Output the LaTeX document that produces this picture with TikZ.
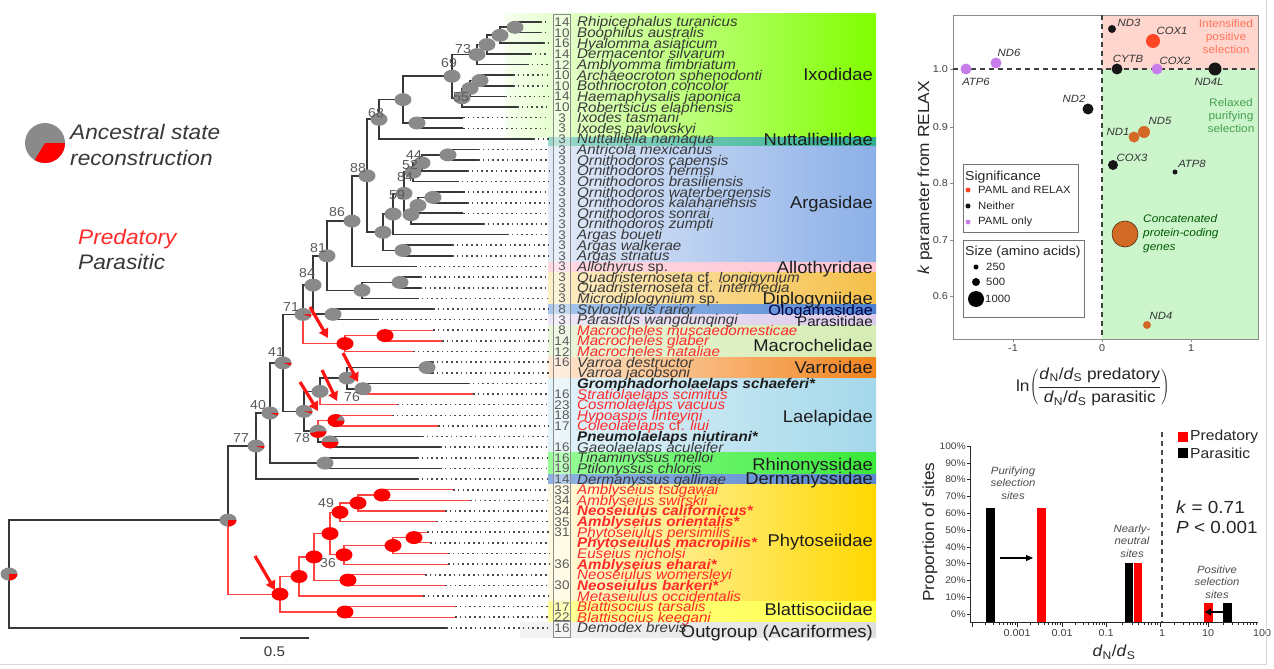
\documentclass[tikz,border=0pt]{standalone}
\usepackage{fontspec}
\setmainfont[FakeStretch=1.08]{Liberation Sans}
\usetikzlibrary{calc,arrows.meta,positioning}

\definecolor{TreeBlack}{HTML}{383838}
\definecolor{TreeRed}{HTML}{FF4444}
\definecolor{LeadGray}{HTML}{4A4A4A}
\definecolor{PieGray}{HTML}{8A8A8A}
\definecolor{PieRed}{HTML}{FF0000}
\definecolor{ArrowRed}{HTML}{FF1414}
\definecolor{tk}{HTML}{383838}
\definecolor{tb}{HTML}{1E1E1E}
\definecolor{tr}{HTML}{FF2A2A}
\definecolor{NumGray}{HTML}{5A5A5A}
\definecolor{FamText}{HTML}{1E1E1E}
% family bands
\definecolor{IxoA}{HTML}{F6FFEE}\definecolor{IxoB}{HTML}{80FF00}
\definecolor{NutA}{HTML}{9AD8C8}\definecolor{NutB}{HTML}{30B090}
\definecolor{ArgA}{HTML}{E2EAF7}\definecolor{ArgB}{HTML}{8CB0E8}
\definecolor{AllA}{HTML}{FFD8E2}\definecolor{AllB}{HTML}{FFC4D4}
\definecolor{DipA}{HTML}{FDEEC8}\definecolor{DipB}{HTML}{F5C04A}
\definecolor{OloA}{HTML}{A8C8EC}\definecolor{OloB}{HTML}{4A7FD0}
\definecolor{ParA}{HTML}{EEE6F6}\definecolor{ParB}{HTML}{DCCBEB}
\definecolor{MacA}{HTML}{EAF5D8}\definecolor{MacB}{HTML}{D6ECB4}
\definecolor{VarA}{HTML}{FFE6D0}\definecolor{VarB}{HTML}{F2841E}
\definecolor{LaeA}{HTML}{E4F3F9}\definecolor{LaeB}{HTML}{A4D8EA}
\definecolor{RhiA}{HTML}{98FF98}\definecolor{RhiB}{HTML}{38E838}
\definecolor{DerA}{HTML}{90B2E2}\definecolor{DerB}{HTML}{5A86D0}
\definecolor{PhyA}{HTML}{FFFBE2}\definecolor{PhyB}{HTML}{FFD800}
\definecolor{BlaA}{HTML}{FFFF98}\definecolor{BlaB}{HTML}{FFFF40}
\definecolor{OutA}{HTML}{F4F4F4}\definecolor{OutB}{HTML}{DEDEDE}
% right panels
\definecolor{PinkZone}{HTML}{FFD6CE}
\definecolor{GreenZone}{HTML}{CCF5CC}
\definecolor{RelaxText}{HTML}{46A050}
\definecolor{Purp}{HTML}{C77DEA}
\definecolor{Hot}{HTML}{FF4726}
\definecolor{Rust}{HTML}{D26A25}
\definecolor{Dot}{HTML}{161616}
\definecolor{BarRed}{HTML}{FF0000}

\tikzset{
  Branch/.style={line width=1.7pt, draw=TreeBlack},
  RedBranch/.style={line width=1.2pt, draw=TreeRed},
  Leader/.style={line width=1.6pt, draw=LeadGray, dash pattern=on 1.6pt off 3.2pt},
  Leaf/.style={font=\fontsize{14}{16}\selectfont\itshape, inner sep=0pt, anchor=base west},
  Num/.style={font=\fontsize{12.5}{14}\selectfont, text=NumGray, inner sep=0pt, anchor=base},
  NumBox/.style={draw=black!45, line width=0.8pt, fill=white, fill opacity=0.35},
  Family/.style={font=\fontsize{17}{19}\selectfont, text=FamText, inner sep=0pt, anchor=base east},
  Support/.style={font=\fontsize{13}{15}\selectfont, text=NumGray, inner sep=0pt},
  PredArrow/.style={line width=3.2pt, draw=ArrowRed, -{Triangle[length=9pt,width=10pt]}},
  Legend/.style={font=\fontsize{21}{23}\selectfont\itshape, inner sep=0pt, anchor=base west},
  Tick/.style={font=\fontsize{10}{12}\selectfont, text=black!75, inner sep=1pt},
  Gene/.style={font=\fontsize{10.5}{12}\selectfont\itshape, text=black!80, inner sep=0pt},
  Zone/.style={font=\fontsize{11}{13}\selectfont, inner sep=0pt, align=center},
  Frame/.style={draw=black!45, line width=0.8pt},
  ZeroLine/.style={draw=black!75, line width=1.4pt, dash pattern=on 5pt off 4pt},
  BoxTitle/.style={font=\fontsize{13}{15}\selectfont, text=black!85, inner sep=0pt, anchor=base west},
  BoxItem/.style={font=\fontsize{10.5}{12}\selectfont, text=black!85, inner sep=0pt, anchor=west},
  AxisLab/.style={font=\fontsize{16}{18}\selectfont, text=black!85, inner sep=0pt},
  Note/.style={font=\fontsize{10.5}{12.5}\selectfont\itshape, text=black!70, inner sep=0pt, align=center},
}

\newcommand{\PieG}[1]{\fill[PieGray] (#1) ellipse [x radius=8.5, y radius=6.5];}
\newcommand{\PieR}[1]{\fill[PieRed] (#1) ellipse [x radius=8.5, y radius=6.5];}
\newcommand{\PieM}[2]{\PieG{#1}
  \fill[PieRed] (#1) -- ++(0:8.5 and 6.5)
    arc [start angle=0, end angle={360*#2}, x radius=8.5, y radius=6.5] -- cycle;}
\newcommand{\Dn}{\textit{d}\textsubscript{N}}
\newcommand{\Ds}{\textit{d}\textsubscript{S}}

\begin{document}
\begin{tikzpicture}[x=1pt, y=-1pt]
  \fill[white] (0,0) rectangle (1274,669);
  \useasboundingbox (0,0) rectangle (1274,669);

  % family bands
  \foreach \ya/\yb/\ca/\cb/\xa in {14/137/IxoA/IxoB/505, 137/146/NutA/NutB/548,
      146/262/ArgA/ArgB/548, 262/272/AllA/AllB/548, 272/304.5/DipA/DipB/548,
      304.5/314.5/OloA/OloB/548, 314.5/325/ParA/ParB/548, 325/357/MacA/MacB/548,
      357/378/VarA/VarB/548, 378/452.5/LaeA/LaeB/548, 452.5/474/RhiA/RhiB/548,
      474/484.5/DerA/DerB/548, 484.5/601/PhyA/PhyB/548, 601/622/BlaA/BlaB/548,
      622/637/OutA/OutB/520}
    {\shade[left color=\ca, right color=\cb] (\xa,\ya) rectangle (876,\yb);}

  \node[NumBox, minimum width=17pt, minimum height=606pt, anchor=north west] (numbox) at (553,14) {};
  \node[NumBox, minimum width=17pt, minimum height=16pt, anchor=north west] (outbox) at (553,621) {};
  \coordinate (lead) at (549,0);

  % leaf tips
  \foreach \i/\tx in {1/540,2/540,3/543,4/530,5/527,6/513,7/513,8/505,9/517,10/463,
      11/463,12/533,13/478,14/478,15/467,16/457,17/463,18/467,19/463,20/483,
      21/507,22/452,23/452,24/415,25/420,26/420,27/417,28/433,29/377,30/433,
      31/442,32/413,33/432,34/432,35/468,36/473,37/397,38/392,39/438,40/422,
      41/440,42/417,43/440,44/417,45/453,46/470,47/445,48/436,49/427,50/430,
      51/448,52/448,53/425,54/445,55/423,56/455,57/455,58/446}{
    \coordinate (l\i) at (\tx,{22+(\i-1)*10.63});
    \draw[Leader] (l\i) -- (l\i -| lead);
  }

  % internal nodes
  \coordinate (i12) at (515,27.3);   \coordinate (i123) at (500,35.3);
  \coordinate (i73) at (487,44.6);   \coordinate (i5) at (477,54.6);
  \coordinate (i67) at (480,80.5);   \coordinate (i55) at (470,88.5);
  \coordinate (i9) at (462,97.8);    \coordinate (i69) at (452,76.2);
  \coordinate (i1011) at (417,123.0); \coordinate (iIx) at (403,99.6);
  \coordinate (i68) at (379,119.3);
  \coordinate (a44) at (448,154.9);  \coordinate (a52) at (422,162.9);
  \coordinate (a84) at (413,172.2);  \coordinate (a1718) at (433,197.4);
  \coordinate (a19) at (418,205.4);  \coordinate (a20) at (411,214.7);
  \coordinate (a59) at (404,193.4);  \coordinate (a21) at (393,214.0);
  \coordinate (a2223) at (403,250.5); \coordinate (aRoot) at (383,232.3);
  \coordinate (n88) at (367,175.8);  \coordinate (n86) at (352,221.1);
  \coordinate (d2526) at (400,282.4); \coordinate (dRoot) at (362,290.4);
  \coordinate (n81) at (327,255.8);  \coordinate (s2829) at (333,314.3);
  \coordinate (n84) at (313,285.1);  \coordinate (m3031) at (385,335.6);
  \coordinate (mRoot) at (345,343.6); \coordinate (n71) at (303,314.4);
  \coordinate (v3334) at (427,367.5); \coordinate (n76) at (363,388.7);
  \coordinate (nVG) at (347,378.1);  \coordinate (nVGC) at (320,391.4);
  \coordinate (l3839) at (336,420.6); \coordinate (l4041) at (330,441.9);
  \coordinate (laeB) at (318,431.3); \coordinate (laeRoot) at (304,411.4);
  \coordinate (n41) at (283,362.9);  \coordinate (r4243) at (325,463.1);
  \coordinate (n40) at (270,413.0);  \coordinate (n77) at (256,446.0);
  \coordinate (p4546) at (382,495.0); \coordinate (p47) at (358,503.0);
  \coordinate (p49) at (340,512.3);  \coordinate (p4950) at (414,537.6);
  \coordinate (p51) at (393,545.5);  \coordinate (p36) at (344,554.8);
  \coordinate (pA) at (330,533.6);   \coordinate (p5354) at (348,580.1);
  \coordinate (pB) at (314,556.9);   \coordinate (pC) at (299,576.5);
  \coordinate (pBl) at (345,612.0);  \coordinate (pRoot) at (280,594.2);
  \coordinate (R1) at (228,520.1);   \coordinate (R0) at (9,574.0);

  % parasitic branches
  \foreach \p/\c in {i12/l1, i12/l2, i123/i12, i123/l3, i73/i123, i73/l4, i5/i73, i5/l5,
      i67/l6, i67/l7, i55/i67, i55/l8, i9/i55, i9/l9, i69/i5, i69/i9, i1011/l10,
      i1011/l11, iIx/i69, iIx/i1011, i68/iIx, i68/l12, a44/l13, a44/l14, a52/a44,
      a52/l15, a84/a52, a84/l16, a1718/l17, a1718/l18, a19/a1718, a19/l19, a20/a19,
      a20/l20, a59/a84, a59/a20, a21/a59, a21/l21, a2223/l22, a2223/l23, aRoot/a21,
      aRoot/a2223, n88/i68, n88/aRoot, n86/n88, n86/l24, d2526/l25, d2526/l26,
      dRoot/d2526, dRoot/l27, n81/n86, n81/dRoot, s2829/l28, s2829/l29, n84/n81,
      n84/s2829, n71/n84, v3334/l33, v3334/l34, n76/l35, nVG/v3334, nVG/n76,
      nVGC/nVG, l4041/l40, l4041/l41, laeB/l4041, laeRoot/nVGC, laeRoot/laeB,
      n41/n71, n41/laeRoot, r4243/l42, r4243/l43, n40/n41, n40/r4243, n77/n40,
      n77/l44, R1/n77, R0/R1, R0/l58}
    {\draw[Branch] (\p) |- (\c);}

  % predatory branches
  \foreach \p/\c in {n71/mRoot, mRoot/m3031, mRoot/l32, m3031/l30, m3031/l31,
      n76/l36, nVGC/l37, laeB/l3839, l3839/l38, l3839/l39, R1/pRoot, pRoot/pC,
      pRoot/pBl, pBl/l56, pBl/l57, pC/pB, pC/l55, pB/pA, pB/p5354, p5354/l53,
      p5354/l54, pA/p49, pA/p36, p49/p47, p49/l48, p47/p4546, p47/l47, p4546/l45,
      p4546/l46, p36/p51, p36/l52, p51/p4950, p51/l51, p4950/l49, p4950/l50}
    {\draw[RedBranch] (\p) |- (\c);}

  % ancestral states
  \foreach \n in {i12, i123, i73, i5, i67, i55, i9, i69, i1011, iIx, i68, a44, a52,
      a84, a1718, a19, a20, a59, a21, a2223, aRoot, n88, n86, d2526, dRoot, n81,
      s2829, n84, v3334, n76, nVG, nVGC, r4243}
    {\PieG{\n}}
  \foreach \n/\f in {R0/0.25, R1/0.25, n77/0.06, n40/0.06, n41/0.06, n71/0.06,
      laeRoot/0.05, laeB/0.45, l3839/0.85, l4041/0.5}
    {\PieM{\n}{\f}}
  \foreach \n in {mRoot, m3031, pRoot, pC, pB, pA, p49, p47, p4546, p36, p51,
      p4950, p5354, pBl}
    {\PieR{\n}}

  % bootstrap values
  \foreach \v/\x/\y [count=\k] in {73/463/49, 69/449/63, 55/461/97, 68/376/113,
      88/358/168, 44/414/155, 52/410/165, 84/405/177, 59/397/195, 86/337/212,
      81/318/248, 84/307/273, 71/291/307, 41/276/352, 40/258/405, 77/241/438,
      76/352/397, 78/302/438, 49/326/503, 36/328/563}
    {\node[Support] (bs\k) at (\x,\y) {\v};}

  % shifts to predation
  \coordinate (a1s) at (310,307); \coordinate (a1e) at (328,338);
  \coordinate (a2s) at (343,353); \coordinate (a2e) at (358,382);
  \coordinate (a3s) at (322,370); \coordinate (a3e) at (337,401);
  \coordinate (a4s) at (300,382); \coordinate (a4e) at (318,411);
  \coordinate (a5s) at (255,556); \coordinate (a5e) at (275,590);
  \foreach \a in {1,...,5}
    {\draw[PredArrow] (a\a s) -- (a\a e);}

  % taxa
  \foreach \i/\nm/\nr/\cl in {
      1/{Rhipicephalus turanicus}/14/tk, 2/{Boophilus australis}/10/tk,
      3/{Hyalomma asiaticum}/16/tk, 4/{Dermacentor silvarum}/14/tk,
      5/{Amblyomma fimbriatum}/12/tk, 6/{Archaeocroton sphenodonti}/10/tk,
      7/{Bothriocroton concolor}/10/tk, 8/{Haemaphysalis japonica}/14/tk,
      9/{Robertsicus elaphensis}/10/tk, 10/{Ixodes tasmani}/3/tk,
      11/{Ixodes pavlovskyi}/3/tk, 12/{Nuttalliella namaqua}/3/tk,
      13/{Antricola mexicanus}/3/tk, 14/{Ornithodoros capensis}/3/tk,
      15/{Ornithodoros hermsi}/3/tk, 16/{Ornithodoros brasiliensis}/3/tk,
      17/{Ornithodoros waterbergensis}/3/tk, 18/{Ornithodoros kalahariensis}/3/tk,
      19/{Ornithodoros sonrai}/3/tk, 20/{Ornithodoros zumpti}/3/tk,
      21/{Argas boueti}/3/tk, 22/{Argas walkerae}/3/tk, 23/{Argas striatus}/3/tk,
      24/{Allothyrus \textup{sp.}}/3/tk,
      25/{Quadristernoseta \textup{cf.} longigynium}/3/tk,
      26/{Quadristernoseta \textup{cf.} intermedia}/3/tk,
      27/{Microdiplogynium \textup{sp.}}/3/tk, 28/{Stylochyrus rarior}/8/tk,
      29/{Parasitus wangdunqingi}/3/tk, 30/{Macrocheles muscaedomesticae}/8/tr,
      31/{Macrocheles glaber}/14/tr, 32/{Macrocheles nataliae}/12/tr,
      33/{Varroa destructor}/16/tk, 34/{Varroa jacobsoni}//tk,
      35/{\textbf{Gromphadorholaelaps schaeferi*}}//tb,
      36/{Stratiolaelaps scimitus}/16/tr, 37/{Cosmolaelaps vacuus}/23/tr,
      38/{Hypoaspis linteyini}/18/tr, 39/{Coleolaelaps \textup{cf.} liui}/17/tr,
      40/{\textbf{Pneumolaelaps niutirani*}}//tb, 41/{Gaeolaelaps aculeifer}/16/tk,
      42/{Tinaminyssus melloi}/16/tk, 43/{Ptilonyssus chloris}/19/tk,
      44/{Dermanyssus gallinae}/14/tk, 45/{Amblyseius tsugawai}/33/tr,
      46/{Amblyseius swirskii}/34/tr, 47/{\textbf{Neoseiulus californicus*}}/34/tr,
      48/{\textbf{Amblyseius orientalis*}}/35/tr, 49/{Phytoseiulus persimilis}/31/tr,
      50/{\textbf{Phytoseiulus macropilis*}}//tr, 51/{Euseius nicholsi}//tr,
      52/{\textbf{Amblyseius eharai*}}/36/tr, 53/{Neoseiulus womersleyi}//tr,
      54/{\textbf{Neoseiulus barkeri*}}/30/tr, 55/{Metaseiulus occidentalis}//tr,
      56/{Blattisocius tarsalis}/17/tr, 57/{Blattisocius keegani}/22/tr,
      58/{Demodex brevis}/16/tk}{
    \node[Leaf, text=\cl] (t\i) at (577,{27+(\i-1)*10.63}) {\nm};
    \node[Num] (c\i) at (562,{26.5+(\i-1)*10.63}) {\nr};
  }

  % families
  \foreach \fam/\y [count=\k] in {Ixodidae/81, Nuttalliellidae/145, Argasidae/208,
      Allothyridae/273, Diplogyniidae/304, Macrochelidae/351, Varroidae/373,
      Laelapidae/422, Rhinonyssidae/470, Dermanyssidae/484, Phytoseiidae/546,
      Blattisociidae/615, {Outgroup (Acariformes)}/637}
    {\node[Family] (fam\k) at (873,\y) {\fam};}
  \node[Family, font=\fontsize{15}{17}\selectfont, text=black!75!blue] (famOlo) at (873,315) {Ologamasidae};
  \node[Family, font=\fontsize{14}{16}\selectfont] (famPar) at (873,326) {Parasitidae};

  % scale bar
  \coordinate (sb1) at (240,638); \coordinate (sb2) at (309,638);
  \draw[line width=1.5pt, TreeBlack] (sb1) -- (sb2);
  \node[font=\fontsize{14}{16}\selectfont, text=black!80, below=5pt of $(sb1)!0.5!(sb2)$] (sblab) {0.5};

  % legend
  \coordinate (lgpie) at (45,143);
  \fill[PieGray] (lgpie) circle [radius=20];
  \fill[PieRed] (lgpie) -- ++(0:20) arc [start angle=0, end angle=121, radius=20] -- cycle;
  \node[Legend, text=tk] (lg1) at (70,139) {Ancestral state};
  \node[Legend, text=tk] (lg2) at (70,165) {reconstruction};
  \node[Legend, text=tr] (lgpred) at (78,244) {Predatory};
  \node[Legend, text=tk] (lgpara) at (78,269) {Parasitic};

  % RELAX panel
  \fill[PinkZone] (1102,15) rectangle (1258,69);
  \fill[GreenZone] (1102,69) rectangle (1258,339);
  \draw[Frame] (953,15) rectangle (1258,339);
  \draw[ZeroLine] (953,69) -- (1258,69);
  \draw[ZeroLine] (1102,15) -- (1102,339);
  \foreach \v/\y in {1.0/69, 0.9/127, 0.8/183, 0.7/240, 0.6/296}{
    \draw[Frame] (950,\y) -- (953,\y);
    \node[Tick, anchor=east] (yt\y) at (949,\y) {\v};
  }
  \foreach \v/\x in {-1/1013, 0/1102, 1/1191}{
    \draw[Frame] (\x,339) -- (\x,342);
    \node[Tick, anchor=north] (xt\x) at (\x,343) {\v};
  }
  \foreach \g/\x/\y/\r/\cl in {ATP6/966/69/5.5/Purp, ND6/996/63/5.5/Purp,
      ND2/1088/109/5.5/Dot, ND3/1112/29/4/Dot, COX1/1153/41/7/Hot,
      CYTB/1117/69/5.5/Dot, COX2/1157/69/5.5/Purp, ND4L/1215/69/6.5/Dot,
      ND1/1134/137/5.5/Rust, ND5/1144/132/6/Rust, COX3/1113/165/5/Dot,
      ATP8/1175/172/2.5/Dot, ND4/1147/325/4/Rust}
    {\fill[fill=\cl] (\x,\y) circle [radius=\r];}
  \filldraw[fill=Rust, draw=black!60!Rust, line width=0.6pt] (1125,234) circle [radius=13];
  \foreach \g/\x/\y in {ATP6/976/82, ND6/1009/53, ND2/1074/99, ND3/1129/23,
      COX1/1172/31, CYTB/1128/59, COX2/1175/61, ND4L/1209/82, ND1/1118/132,
      ND5/1160/121, COX3/1132/158, ATP8/1192/164, ND4/1161/316}
    {\node[Gene] (g\g) at (\x,\y) {\g};}
  \node[Gene, text=green!35!black, align=left, anchor=north west,
        font=\fontsize{11}{14}\selectfont\itshape] (gcat) at (1143,214)
        {Concatenated\\protein-coding\\genes};
  \node[Zone, text=Hot!75!white] (zint) at (1226,37) {Intensified\\positive\\selection};
  \node[Zone, text=RelaxText] (zrel) at (1231,116) {Relaxed\\purifying\\selection};

  % legend boxes
  \draw[Frame, black!55] (963,164) rectangle (1078,232);
  \node[BoxTitle] (sigt) at (965,180) {Significance};
  \fill[Hot] (968,190) circle [radius=2.5];
  \node[BoxItem] (sig1) at (978,190) {PAML and RELAX};
  \fill[Dot] (968,206) circle [radius=2.5];
  \node[BoxItem] (sig2) at (978,206) {Neither};
  \fill[Purp] (968,222) circle [radius=2.5];
  \node[BoxItem] (sig3) at (978,222) {PAML only};
  \draw[Frame, black!55] (963,240) rectangle (1084,317);
  \node[BoxTitle] (sizt) at (965,255) {Size (amino acids)};
  \fill[black] (976,267) circle [radius=2.5];
  \node[BoxItem] (siz1) at (986,267) {250};
  \fill[black] (976,282) circle [radius=4];
  \node[BoxItem] (siz2) at (986,282) {500};
  \fill[black] (976,299) circle [radius=8];
  \node[BoxItem] (siz3) at (985,299) {1000};

  \node[AxisLab, rotate=90] (ylab) at (925,178) {\textit{k} parameter from RELAX};
  \node[AxisLab] (xlab) at (1093,387)
    {ln$\displaystyle\left(\frac{\mbox{\Dn/\Ds\ predatory}}{\mbox{\Dn/\Ds\ parasitic}}\right)$};

  % site classes
  \draw[Frame, black!85] (970,446) -- (970,622) -- (1258,622);
  \foreach \p in {0,10,...,100}{
    \draw[black!85] (967,{614-1.68*\p}) -- (970,{614-1.68*\p});
    \node[Tick, anchor=east, font=\fontsize{9.5}{11}\selectfont] (pc\p) at (967,{614-1.68*\p}) {\p\%};
  }
  \foreach \a/\b in {972/1017, 1017/1062, 1062/1106, 1106/1160, 1160/1208, 1208/1258}{
    \draw[black!85] (\a,622) -- (\a,627);
    \foreach \m in {2,...,9}
      {\draw[black!85] ({\a+(\b-\a)*log10(\m)},622) -- ++(0,3);}
  }
  \foreach \lab/\x in {0.001/1017, 0.01/1062, 0.1/1106, 1/1162, 10/1208, 100/1262}
    {\node[Tick, anchor=north] (xb\x) at (\x,628) {\lab};}
  \draw[ZeroLine, black!70] (1162,432) -- (1162,622);
  \fill[black] (986,622) rectangle (995,508);
  \fill[BarRed] (1037,622) rectangle (1046,508);
  \fill[black] (1125,622) rectangle (1133,563);
  \fill[BarRed] (1134,622) rectangle (1142,563);
  \fill[BarRed] (1204,622) rectangle (1213,603);
  \fill[black] (1223,622) rectangle (1232,603);
  \coordinate (sh1s) at (1000,558); \coordinate (sh1e) at (1033,558);
  \coordinate (sh2s) at (1226,612); \coordinate (sh2e) at (1205,612);
  \draw[line width=1.2pt, -{Triangle[length=7pt,width=6pt]}] (sh1s) -- (sh1e);
  \draw[line width=2.2pt, -{Triangle[length=6pt,width=7pt]}] (sh2s) -- (sh2e);
  \node[Note] (npur) at (1013,483) {Purifying\\selection\\sites};
  \node[Note] (nneu) at (1132,541) {Nearly-\\neutral\\sites};
  \node[Note] (npos) at (1217,582) {Positive\\selection\\sites};
  \fill[BarRed] (1178,432) rectangle (1188,442);
  \node[BoxItem, font=\fontsize{14.5}{16}\selectfont] (bpred) at (1190,437) {Predatory};
  \fill[black] (1178,448) rectangle (1188,458);
  \node[BoxItem, font=\fontsize{14.5}{16}\selectfont] (bpara) at (1190,453) {Parasitic};
  \node[AxisLab, anchor=west, font=\fontsize{17.5}{20}\selectfont] (kval) at (1176,507) {\textit{k} = 0.71};
  \node[AxisLab, anchor=west, font=\fontsize{17.5}{20}\selectfont] (pval) at (1176,527) {\textit{P} < 0.001};
  \node[AxisLab, rotate=90] (blab) at (930,532) {Proportion of sites};
  \node[AxisLab] (bxlab) at (1114,652) {\Dn/\Ds};

  % panel edge
  \draw[black!15, line width=1pt] (0,664) -- (1266,664) -- (1266,0);
\end{tikzpicture}
\end{document}
